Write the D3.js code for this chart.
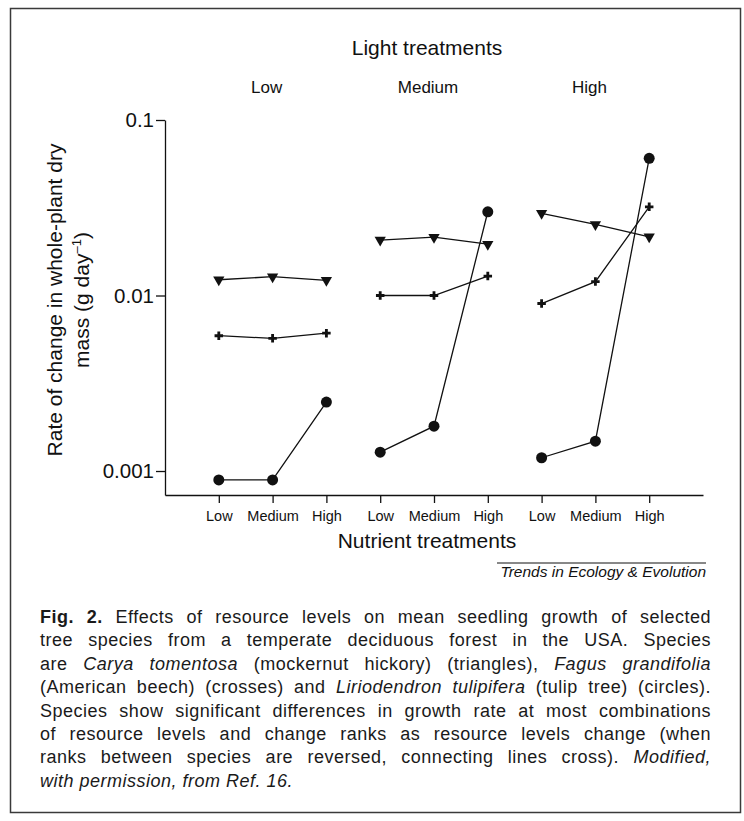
<!DOCTYPE html>
<html>
<head>
<meta charset="utf-8">
<script src="https://cdn.jsdelivr.net/npm/d3@7"></script>
<style>
  body { margin: 0; background: #fff; }
  #wrap { position: relative; width: 744px; height: 821px; }
  svg { position: absolute; left: 0; top: 0; font-family: "Liberation Sans", Arial, sans-serif; }
  #caption {
    position: absolute; left: 40px; top: 606px; width: 671px;
    font-family: "Liberation Sans", Arial, sans-serif; font-size: 18px;
    line-height: 23.4px; color: #1a1a1a; letter-spacing: 0.5px;
  }
  #caption div { white-space: nowrap; text-align: justify; text-align-last: justify; }
  #caption div:last-child { text-align-last: left; }
</style>
</head>
<body>
<div id="wrap"></div>
<script>
const lightLevels = ['Low', 'Medium', 'High'];
const nutrientLevels = ['Low', 'Medium', 'High'];
const yTicks = [0.001, 0.01, 0.1];

// values per light level, three nutrient levels each (g day-1)
const carya = [0.0123, 0.0128, 0.0122, 0.0207, 0.0215, 0.0196, 0.0294, 0.0254, 0.0216];
const fagus = [0.0059, 0.0057, 0.0061, 0.0100, 0.0100, 0.0129, 0.0090, 0.0120, 0.032];
const liriodendron = [0.00089, 0.00089, 0.00247, 0.00128, 0.0018, 0.030, 0.00119, 0.00148, 0.0605];

const captionLines = [
  '<b>Fig. 2.</b> Effects of resource levels on mean seedling growth of selected',
  'tree species from a temperate deciduous forest in the USA. Species',
  'are <i>Carya tomentosa</i> (mockernut hickory) (triangles), <i>Fagus grandifolia</i>',
  '(American beech) (crosses) and <i>Liriodendron tulipifera</i> (tulip tree) (circles).',
  'Species show significant differences in growth rate at most combinations',
  'of resource levels and change ranks as resource levels change (when',
  'ranks between species are reversed, connecting lines cross). <i>Modified,</i>',
  '<i>with permission, from Ref. 16.</i>'
];

const w = 744;
const h = 821;

const keys = [];
lightLevels.forEach(l => nutrientLevels.forEach(n => keys.push(l + '|' + n)));

const x = d3.scalePoint()
  .domain(keys)
  .range([165, 703])
  .padding(1);

const y = d3.scaleLog()
  .domain([0.00073, 0.1])
  .range([495, 120]);

const svg = d3.select('#wrap')
  .append('svg')
  .attr('width', w)
  .attr('height', h);

// frame
svg.append('rect')
  .attr('x', 10.5).attr('y', 8.5)
  .attr('width', 730).attr('height', 804)
  .attr('fill', 'none')
  .attr('stroke', '#3a3a3a')
  .attr('stroke-width', 1.5);

const xAxis = d3.axisBottom(x)
  .tickSize(8)
  .tickSizeOuter(0)
  .tickPadding(8)
  .tickFormat(d => d.split('|')[1]);

const yAxis = d3.axisLeft(y)
  .tickValues(yTicks)
  .tickSize(9)
  .tickSizeOuter(0)
  .tickPadding(2)
  .tickFormat(d => String(d));

const gx = svg.append('g')
  .attr('transform', `translate(0, 495)`)
  .call(xAxis);
gx.selectAll('text').attr('font-size', 14.5).attr('fill', '#111');

const gy = svg.append('g')
  .attr('transform', `translate(165, 0)`)
  .call(yAxis);
gy.selectAll('text').attr('font-size', 20.5).attr('fill', '#111');

svg.selectAll('.domain, .tick line')
  .attr('stroke', '#111')
  .attr('stroke-width', 1.3);

// titles
svg.append('text')
  .attr('x', 427).attr('y', 55)
  .attr('text-anchor', 'middle')
  .attr('font-size', 21)
  .attr('fill', '#111')
  .text('Light treatments');

svg.selectAll('.light-label')
  .data(lightLevels)
  .enter()
  .append('text')
  .attr('class', 'light-label')
  .attr('x', d => (x(d + '|Low') + x(d + '|High')) / 2 - 6)
  .attr('y', 93)
  .attr('text-anchor', 'middle')
  .attr('font-size', 17)
  .attr('fill', '#111')
  .text(d => d);

svg.append('text')
  .attr('x', 427).attr('y', 548)
  .attr('text-anchor', 'middle')
  .attr('font-size', 21)
  .attr('fill', '#111')
  .text('Nutrient treatments');

const yl = svg.append('text')
  .attr('transform', 'translate(0, 300) rotate(-90)')
  .attr('text-anchor', 'middle')
  .attr('font-size', 21)
  .attr('fill', '#111');
yl.append('tspan').attr('x', 0).attr('y', 62).text('Rate of change in whole-plant dry');
const l2 = yl.append('tspan').attr('x', 0).attr('y', 89);
l2.append('tspan').text('mass (g day');
l2.append('tspan').attr('dy', -8).attr('font-size', 13).text('\u20131');
l2.append('tspan').attr('dy', 8).text(')');

// credit line
svg.append('line')
  .attr('x1', 497).attr('x2', 706)
  .attr('y1', 563).attr('y2', 563)
  .attr('stroke', '#111').attr('stroke-width', 1);
svg.append('text')
  .attr('x', 706).attr('y', 577)
  .attr('text-anchor', 'end')
  .attr('font-size', 15.5)
  .attr('font-style', 'italic')
  .attr('fill', '#111')
  .text('Trends in Ecology & Evolution');

// series: one line per light level
const series = [
  { name: 'carya', values: carya, symbol: 'triangle' },
  { name: 'fagus', values: fagus, symbol: 'cross' },
  { name: 'liriodendron', values: liriodendron, symbol: 'circle' }
];

const line = d3.line()
  .x(d => x(d.key))
  .y(d => y(d.v));

series.forEach(s => {
  const pts = s.values.map((v, i) => ({ key: keys[i], v: v }));
  lightLevels.forEach((l, li) => {
    svg.append('path')
      .datum(pts.slice(li * 3, li * 3 + 3))
      .attr('d', line)
      .attr('fill', 'none')
      .attr('stroke', '#111')
      .attr('stroke-width', 1.3);
  });

  const g = svg.append('g').attr('class', s.name);
  if (s.symbol === 'circle') {
    g.selectAll('circle')
      .data(pts)
      .enter()
      .append('circle')
      .attr('cx', d => x(d.key))
      .attr('cy', d => y(d.v))
      .attr('r', 5.5)
      .attr('fill', '#111');
  } else if (s.symbol === 'triangle') {
    g.selectAll('path')
      .data(pts)
      .enter()
      .append('path')
      .attr('d', d3.symbol(d3.symbolTriangle, 55))
      .attr('transform', d => `translate(${x(d.key)}, ${y(d.v)}) rotate(180)`)
      .attr('fill', '#111');
  } else {
    g.selectAll('path')
      .data(pts)
      .enter()
      .append('path')
      .attr('d', d3.symbol(d3.symbolCross, 40))
      .attr('transform', d => `translate(${x(d.key)}, ${y(d.v)})`)
      .attr('fill', '#111');
  }
});

d3.select('#wrap')
  .append('div')
  .attr('id', 'caption')
  .selectAll('div')
  .data(captionLines)
  .enter()
  .append('div')
  .html(d => d);
</script>
</body>
</html>
